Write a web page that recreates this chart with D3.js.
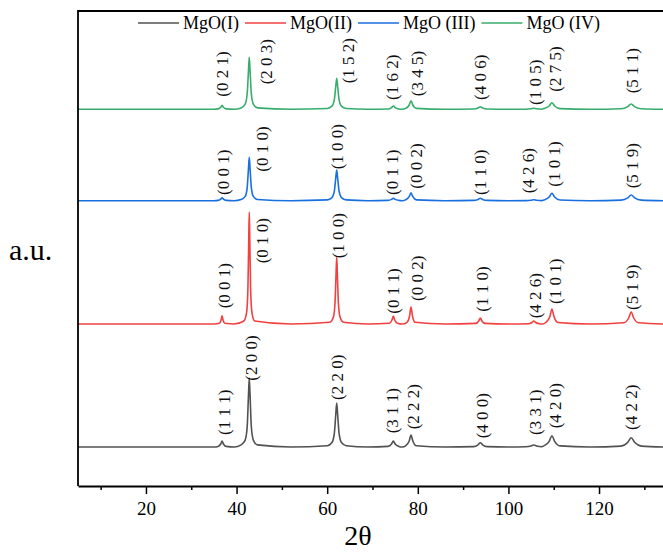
<!DOCTYPE html>
<html>
<head>
<meta charset="utf-8">
<script src="https://cdn.jsdelivr.net/npm/d3@7"></script>
<style>
  body { margin: 0; background: #fff; }
</style>
</head>
<body>
<div id="chart"></div>
<script>
const serifFont = "'Liberation Serif', 'Times New Roman', Tinos, 'DejaVu Serif', 'Noto Serif', Times, serif";

// series names and colours
const seriesNames = ["MgO(I)", "MgO(II)", "MgO (III)", "MgO (IV)"];
const seriesColors = ["#515151", "#F14040", "#1A6FDF", "#37AD6B"];
// vertical offset of each pattern (a.u.)
const seriesOffsets = [390, 1620, 2853, 3767];

// patterns: [2theta, intensity above own baseline]
const mgo1 = [
  [5, 0], [35, 0],
  [35.9, 6], [36.5, 30], [36.8, 60], [37.1, 30], [37.7, 6],
  [39.5, 0],
  [41.0, 21], [41.9, 69], [42.35, 207], [42.62, 511], [42.8, 690], [42.98, 511], [43.25, 207], [43.7, 69], [44.6, 21],
  [52, 0],
  [60.0, 12], [61.05, 44], [61.575, 136], [61.89, 323], [62.1, 440], [62.31, 323], [62.625, 136], [63.15, 44], [64.2, 12],
  [69, 0],
  [73.4, 6], [74.2, 30], [74.6, 60], [75.0, 30], [75.8, 6],
  [76.55, 0],
  [77.3, 12], [78.1, 60], [78.5, 120], [78.9, 60], [79.7, 12],
  [86, 0],
  [92.3, 4], [93.3, 22], [93.8, 43], [94.3, 22], [95.3, 4],
  [100, 0],
  [103.8, 2], [105.0, 10], [105.6, 20], [106.2, 10], [107.4, 2],
  [107.8, 11], [109.0, 57], [109.6, 113], [110.2, 57], [111.4, 11],
  [118, 0],
  [124.85, 9], [126.35, 47], [127.1, 93], [127.85, 47], [129.35, 9],
  [134.5, 0]
];

const mgo2 = [
  [5, 0], [35, 0],
  [36.2, 8], [36.6, 42], [36.8, 83], [37.0, 42], [37.4, 8],
  [39.5, 0],
  [41.6, 30], [42.2, 112], [42.5, 347], [42.68, 823], [42.8, 1120], [42.92, 823], [43.1, 347], [43.4, 112], [44.0, 30],
  [52, 0],
  [60.6, 18], [61.35, 67], [61.725, 208], [61.95, 492], [62.1, 670], [62.25, 492], [62.475, 208], [62.85, 67], [63.6, 18],
  [69, 0],
  [73.7, 8], [74.3, 40], [74.6, 80], [74.9, 40], [75.5, 8],
  [76.55, 0],
  [77.6, 17], [78.2, 85], [78.5, 170], [78.8, 85], [79.4, 17],
  [86, 0],
  [92.75, 6], [93.45, 30], [93.8, 60], [94.15, 30], [94.85, 6],
  [100, 0],
  [104.4, 3], [105.2, 15], [105.6, 30], [106.0, 15], [106.8, 3],
  [107.5, 0],
  [108.25, 15], [109.15, 75], [109.6, 150], [110.05, 75], [110.95, 15],
  [118, 0],
  [125.45, 12], [126.55, 60], [127.1, 120], [127.65, 60], [128.75, 12],
  [134.5, 0]
];

const mgo3 = [
  [5, 0], [35, 0],
  [35.9, 3], [36.5, 15], [36.8, 30], [37.1, 15], [37.7, 3],
  [39.5, 0],
  [41.0, 12], [41.9, 43], [42.35, 134], [42.62, 318], [42.8, 433], [42.98, 318], [43.25, 134], [43.7, 43], [44.6, 12],
  [52, 0],
  [60.0, 8], [61.05, 31], [61.575, 95], [61.89, 226], [62.1, 307], [62.31, 226], [62.625, 95], [63.15, 31], [64.2, 8],
  [69, 0],
  [73.4, 3], [74.2, 13], [74.6, 25], [75.0, 13], [75.8, 3],
  [76.55, 0],
  [77.3, 8], [78.1, 40], [78.5, 80], [78.9, 40], [79.7, 8],
  [86, 0],
  [92.3, 3], [93.3, 13], [93.8, 25], [94.3, 13], [95.3, 3],
  [100, 0],
  [103.8, 1], [105.0, 5], [105.6, 10], [106.2, 5], [107.4, 1],
  [107.8, 7], [109.0, 37], [109.6, 74], [110.2, 37], [111.4, 7],
  [118, 0],
  [124.85, 6], [126.35, 29], [127.1, 57], [127.85, 29], [129.35, 6],
  [134.5, 0]
];

const mgo4 = [
  [5, 0], [35, 0],
  [35.9, 4], [36.5, 20], [36.8, 40], [37.1, 20], [37.7, 4],
  [39.5, 0],
  [41.0, 14], [41.9, 52], [42.35, 161], [42.62, 382], [42.8, 520], [42.98, 382], [43.25, 161], [43.7, 52], [44.6, 14],
  [52, 0],
  [60.0, 8], [61.05, 31], [61.575, 96], [61.89, 228], [62.1, 310], [62.31, 228], [62.625, 96], [63.15, 31], [64.2, 8],
  [69, 0],
  [73.4, 3], [74.2, 17], [74.6, 33], [75.0, 17], [75.8, 3],
  [76.55, 0],
  [77.3, 9], [78.1, 43], [78.5, 86], [78.9, 43], [79.7, 9],
  [86, 0],
  [92.3, 3], [93.3, 13], [93.8, 26], [94.3, 13], [95.3, 3],
  [100, 0],
  [103.8, 1], [105.0, 5], [105.6, 10], [106.2, 5], [107.4, 1],
  [107.8, 7], [109.0, 33], [109.6, 66], [110.2, 33], [111.4, 7],
  [118, 0],
  [124.85, 5], [126.35, 27], [127.1, 53], [127.85, 27], [129.35, 5],
  [134.5, 0]
];

// peak labels: [hkl, 2theta, height above baseline]
const labels1 = [["(1 1 1)", 37.28, 120], ["(2 0 0)", 43.11, 663], ["(2 2 0)", 62.1, 470], ["(3 1 1)", 74.35, 137],
  ["(2 2 2)", 79.01, 177], ["(4 0 0)", 94.11, 87], ["(3 3 1)", 105.87, 120], ["(4 2 0)", 110.29, 187], ["(4 2 2)", 127.0, 170]];
const labels2 = [["(0 0 1)", 37.28, 157], ["(0 1 0)", 45.54, 607], ["(1 0 0)", 62.45, 657], ["(0 1 1)", 74.53, 103],
  ["(0 0 2)", 79.76, 230], ["(1 1 0)", 94.11, 123], ["(4 2 6)", 105.87, 57], ["(1 0 1)", 110.29, 200], ["(5 1 9)", 127.22, 140]];
const labels3 = [["(0 0 1)", 37.06, 57], ["(0 1 0)", 45.54, 290], ["(1 0 0)", 62.1, 314], ["(0 1 1)", 74.35, 57],
  ["(0 0 2)", 79.56, 120], ["(1 1 0)", 93.73, 57], ["(4 2 6)", 104.39, 74], ["(1 0 1)", 110.13, 140], ["(5 1 9)", 127.22, 124]];
const labels4 = [["(0 2 1)", 36.71, 126], ["(2 0 3)", 46.49, 250], ["(1 5 2)", 64.66, 260], ["(1 6 2)", 74.24, 93],
  ["(3 4 5)", 79.76, 131], ["(4 0 6)", 93.73, 93], ["(1 0 5)", 105.87, 43], ["(2 7 5)", 110.29, 176], ["(5 1 1)", 127.22, 160]];

const majorTicks = [20, 40, 60, 80, 100, 120];
const minorTicks = [10, 30, 50, 70, 90, 110, 130];

const patterns = [mgo1, mgo2, mgo3, mgo4];
const peakLabels = [labels1, labels2, labels3, labels4];

const width = 663, height = 554;
const margin = {top: 11, right: -4, bottom: 68, left: 78};

const svg = d3.select("#chart").append("svg")
  .attr("width", width)
  .attr("height", height)
  .style("display", "block")
  .style("font-family", serifFont);

const x = d3.scaleLinear()
  .domain([5, 135])
  .range([margin.left, width - margin.right]);

const y = d3.scaleLinear()
  .domain([0, 4750])
  .range([height - margin.bottom, margin.top]);

const line = d3.line()
  .curve(d3.curveMonotoneX)
  .x(d => x(d[0]))
  .y(d => y(d[1]));

// patterns
patterns.forEach((data, i) => {
  svg.append("path")
    .datum(data.map(d => [d[0], d[1] + seriesOffsets[i]]))
    .attr("fill", "none")
    .attr("stroke", seriesColors[i])
    .attr("stroke-width", 1.6)
    .attr("stroke-linejoin", "round")
    .attr("d", line);
});

// hkl labels
peakLabels.forEach((labs, i) => {
  svg.append("g")
    .style("font-family", serifFont)
    .attr("font-size", 17)
    .attr("fill", "#111")
    .selectAll("text")
    .data(labs)
    .join("text")
      .attr("transform", d => `translate(${x(d[1])},${y(d[2] + seriesOffsets[i])}) rotate(-90)`)
      .attr("dy", "0.35em")
      .attr("text-anchor", "start")
      .text(d => d[0]);
});

// frame
svg.append("path")
  .attr("fill", "none")
  .attr("stroke", "#000")
  .attr("stroke-width", 1.8)
  .attr("d", `M${x(135)},${y(4750)}H${x(5)}V${y(0)}`);

const xAxis = svg.append("g")
  .attr("transform", `translate(0,${y(0)})`)
  .call(d3.axisBottom(x).tickValues(majorTicks).tickSize(8).tickSizeOuter(0).tickPadding(8));

svg.append("g")
  .attr("transform", `translate(0,${y(0)})`)
  .call(d3.axisBottom(x).tickValues(minorTicks).tickSize(4).tickSizeOuter(0).tickFormat(""))
  .call(g => g.select(".domain").remove());

xAxis.attr("font-family", null).style("font-family", serifFont);
xAxis.select(".domain").attr("stroke-width", 1.8);
svg.selectAll(".tick line").attr("stroke-width", 1.5);
xAxis.selectAll(".tick text")
  .style("font-family", serifFont)
  .attr("font-size", 19)
  .attr("fill", "#000");

// axis titles
svg.append("text")
  .attr("x", 358)
  .attr("y", 545)
  .attr("text-anchor", "middle")
  .attr("font-size", 28)
  .text("2θ");

svg.append("text")
  .attr("x", 9)
  .attr("y", 260)
  .attr("font-size", 30)
  .text("a.u.");

// legend
const legend = svg.append("g").attr("font-size", 18);
let lx = 138;
const ly = 23;
seriesNames.forEach((name, i) => {
  legend.append("line")
    .attr("x1", lx).attr("x2", lx + 41)
    .attr("y1", ly).attr("y2", ly)
    .attr("stroke", seriesColors[i])
    .attr("stroke-width", 1.6);
  const t = legend.append("text")
    .attr("x", lx + 45)
    .attr("y", ly)
    .attr("dy", "0.35em")
    .text(name);
  lx += 45 + t.node().getComputedTextLength() + 6;
});
</script>
</body>
</html>
